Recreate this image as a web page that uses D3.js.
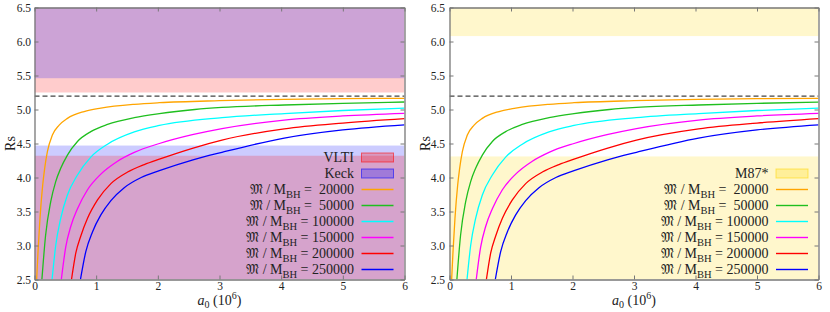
<!DOCTYPE html>
<html><head><meta charset="utf-8">
<script src="https://cdn.jsdelivr.net/npm/d3@7"></script>
<style>
body{margin:0;background:#fff;}
svg text{font-family:"Liberation Serif","Times New Roman",serif;fill:#222;}
</style></head><body>
<svg id="chart" width="830" height="312"></svg>
<script>
// ---- data ----
const xTicks = [0, 1, 2, 3, 4, 5, 6];
const yTicks = [2.5, 3.0, 3.5, 4.0, 4.5, 5.0, 5.5, 6.0, 6.5];
const massRatios = [20000, 50000, 100000, 150000, 200000, 250000];
const seriesColors = ["#ffa500", "#1fbf1f", "#00ffff", "#ff00ff", "#ff0000", "#0000ff"];
const rs20000 = [[0.035,2.5],[0.057,2.91],[0.089,3.40],[0.133,3.89],[0.165,4.135],[0.209,4.38],[0.29,4.625],[0.40,4.77],[0.534,4.87],[0.805,4.97],[1.076,5.02],[1.618,5.076],[2.025,5.10],[3.0,5.13],[4.05,5.15],[5.0,5.16],[6.0,5.165]];
const rs50000 = [[0.12,2.5],[0.18,3.15],[0.263,3.644],[0.344,3.94],[0.425,4.135],[0.534,4.33],[0.697,4.53],[0.913,4.674],[1.184,4.78],[1.618,4.88],[2.025,4.94],[2.6,5.0],[3.04,5.03],[4.05,5.066],[5.0,5.09],[6.0,5.11]];
const rs100000 = [[0.285,2.5],[0.344,3.0],[0.425,3.40],[0.534,3.743],[0.697,4.037],[0.913,4.30],[1.184,4.49],[1.618,4.67],[2.025,4.765],[3.04,4.88],[4.05,4.94],[5.0,4.985],[6.0,5.02]];
const rs150000 = [[0.435,2.5],[0.507,2.98],[0.588,3.28],[0.697,3.54],[0.86,3.82],[1.076,4.05],[1.347,4.24],[1.618,4.37],[2.025,4.50],[2.56,4.63],[3.04,4.72],[4.05,4.845],[5.0,4.905],[6.0,4.944]];
const rs200000 = [[0.60,2.5],[0.67,2.89],[0.751,3.14],[0.86,3.40],[1.022,3.67],[1.239,3.91],[1.51,4.08],[1.78,4.19],[2.025,4.27],[2.56,4.43],[3.04,4.55],[4.05,4.715],[5.0,4.80],[6.0,4.865]];
const rs250000 = [[0.745,2.5],[0.832,2.91],[0.94,3.20],[1.076,3.45],[1.239,3.66],[1.455,3.85],[1.73,4.00],[2.025,4.10],[2.57,4.26],[3.04,4.37],[4.05,4.58],[5.0,4.70],[6.0,4.775]];
const curves = [rs20000, rs50000, rs100000, rs150000, rs200000, rs250000];
const dashedLevel = 5.196;
const vltiBands = [[2.5, 4.32], [5.25, 6.5]];
const keckBands = [[2.5, 4.47], [5.46, 6.5]];
const m87Bands = [[2.5, 4.31], [6.08, 6.5]];
const bandColors = {VLTI: "#ff0000", Keck: "#0000ff", "M87*": "#ffd700"};

// ---- layout ----
const svg = d3.select("#chart");
const yTop = 7.5, yBottom = 279.5;
const panels = [
  {x0: 34.5, x1: 404.5, labelPad: 3.5, rsX: 15,
   bands: [["Keck", keckBands[0]], ["VLTI", vltiBands[0]], ["VLTI", vltiBands[1]], ["Keck", keckBands[1]]],
   legendBoxes: ["VLTI", "Keck"], legendEnd: 354, legendTop: 157.5},
  {x0: 449.5, x1: 818.5, labelPad: 4.5, rsX: 430,
   bands: [["M87*", m87Bands[0]], ["M87*", m87Bands[1]]],
   legendBoxes: ["M87*"], legendEnd: 768.5, legendTop: 173.5}
];
const rowH = 16;

panels.forEach((p, pi) => {
  const x = d3.scaleLinear().domain([0, 6]).range([p.x0, p.x1]);
  const y = d3.scaleLinear().domain([2.5, 6.5]).range([yBottom, yTop]);
  const g = svg.append("g");
  const clipId = "clip" + pi;
  g.append("clipPath").attr("id", clipId).append("rect")
    .attr("x", p.x0).attr("y", yTop).attr("width", p.x1 - p.x0).attr("height", yBottom - yTop);
  const plot = g.append("g").attr("clip-path", `url(#${clipId})`);

  // bands
  plot.selectAll("rect.band").data(p.bands).join("rect").attr("class", "band")
    .attr("x", p.x0).attr("width", p.x1 - p.x0)
    .attr("y", d => y(d[1][1])).attr("height", d => y(d[1][0]) - y(d[1][1]))
    .attr("fill", d => bandColors[d[0]]).attr("fill-opacity", 0.2);

  // dashed line
  plot.append("line").attr("x1", p.x0).attr("x2", p.x1)
    .attr("y1", y(dashedLevel)).attr("y2", y(dashedLevel))
    .attr("stroke", "#444").attr("stroke-width", 1.3).attr("stroke-dasharray", "5,3");

  // curves
  const line = d3.line().x(d => x(d[0])).y(d => y(d[1])).curve(d3.curveMonotoneX);
  plot.selectAll("path.curve").data(curves).join("path").attr("class", "curve")
    .attr("d", line).attr("fill", "none")
    .attr("stroke", (d, i) => seriesColors[i]).attr("stroke-width", 1.3);

  // axes
  const axStyle = sel => {
    sel.select(".domain").attr("stroke", "#777").attr("stroke-width", 1.3);
    sel.selectAll(".tick line").attr("stroke", "#777");
    sel.selectAll("text").attr("font-size", 11.5).attr("font-family", null).attr("fill", "#222");
  };
  g.append("g").attr("transform", `translate(0,${yBottom})`)
    .call(d3.axisBottom(x).tickValues(xTicks).tickFormat(d3.format("d")).tickSize(-4).tickSizeOuter(0).tickPadding(2.5)).call(axStyle);
  g.append("g").attr("transform", `translate(0,${yTop})`)
    .call(d3.axisTop(x).tickValues(xTicks).tickFormat("").tickSize(-4).tickSizeOuter(0)).call(axStyle);
  g.append("g").attr("transform", `translate(${p.x0},0)`)
    .call(d3.axisLeft(y).tickValues(yTicks).tickFormat(d3.format(".1f")).tickSize(-4).tickSizeOuter(0).tickPadding(p.labelPad)).call(axStyle);
  g.append("g").attr("transform", `translate(${p.x1},0)`)
    .call(d3.axisRight(y).tickValues(yTicks).tickFormat("").tickSize(-4).tickSizeOuter(0)).call(axStyle);

  // axis titles
  g.append("text").attr("transform", `translate(${p.rsX},${(yTop + yBottom) / 2}) rotate(-90)`)
    .attr("text-anchor", "middle").attr("font-size", 14).text("Rs");
  const xl = g.append("text").attr("x", (p.x0 + p.x1) / 2).attr("y", 305)
    .attr("text-anchor", "middle").attr("font-size", 14);
  xl.append("tspan").attr("font-style", "italic").text("a");
  xl.append("tspan").attr("font-size", 10).attr("dy", 3).text("0");
  xl.append("tspan").attr("dy", -3).text(" (10");
  xl.append("tspan").attr("font-size", 10).attr("dy", -6).text("6");
  xl.append("tspan").attr("dy", 6).text(")");

  // legend
  const lg = g.append("g");
  let row = 0;
  const sx0 = p.legendEnd + 7.5, sx1 = p.legendEnd + 39.5;
  p.legendBoxes.forEach(name => {
    const cy = p.legendTop + row * rowH;
    lg.append("text").attr("x", p.legendEnd).attr("y", cy + 4.7).attr("text-anchor", "end")
      .attr("font-size", 14).text(name);
    lg.append("rect").attr("x", sx0).attr("y", cy - 4.5).attr("width", sx1 - sx0).attr("height", 9)
      .attr("fill", bandColors[name]).attr("fill-opacity", 0.25)
      .attr("stroke", bandColors[name]).attr("stroke-opacity", 0.55).attr("stroke-width", 1);
    row++;
  });
  massRatios.forEach((m, i) => {
    const cy = p.legendTop + row * rowH;
    const t = lg.append("text").attr("x", p.legendEnd).attr("y", cy + 4.7).attr("text-anchor", "end")
      .attr("font-size", 14);
    t.append("tspan").text("\u{1D510} / M");
    t.append("tspan").attr("font-size", 10.5).attr("dy", 3.5).text("BH");
    t.append("tspan").attr("dy", -3.5).text("\u00A0=\u00A0" + String(m).padStart(6, "\u00A0"));
    lg.append("line").attr("x1", sx0).attr("x2", sx1).attr("y1", cy).attr("y2", cy)
      .attr("stroke", seriesColors[i]).attr("stroke-width", 1.4);
    row++;
  });
});
</script>
</body></html>
